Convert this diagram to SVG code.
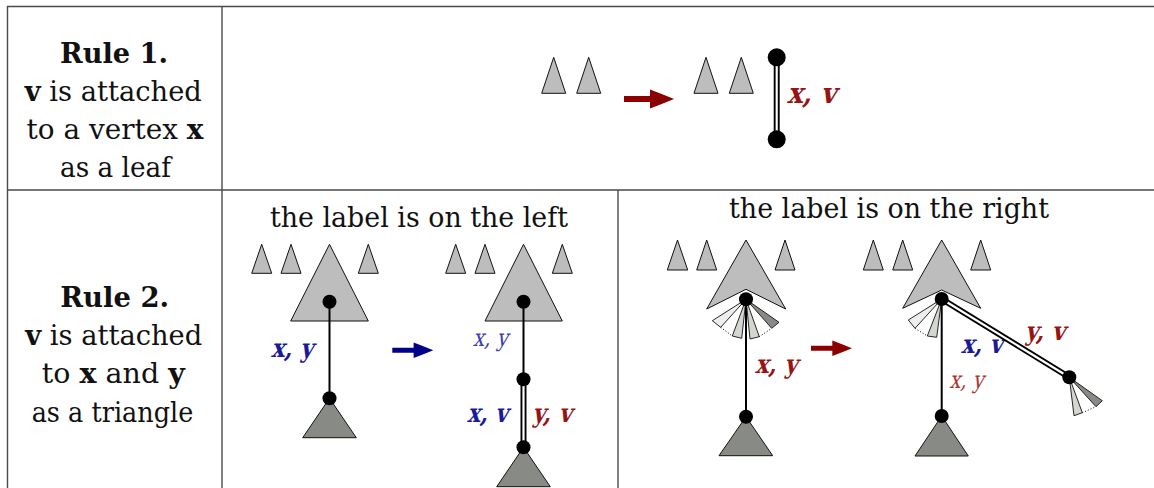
<svg xmlns="http://www.w3.org/2000/svg" xmlns:xlink="http://www.w3.org/1999/xlink" width="1154" height="488" viewBox="0 0 1154 488">
<style>
.grid{stroke:#4a4a4a;stroke-width:1.4;fill:none}
.txt{font-family:'DejaVu Serif',serif;font-size:27px;fill:#111}
.b{font-weight:bold}
.lt{fill:#bdbdbd;stroke:#111;stroke-width:1}
.dk{fill:#888a85;stroke:#111;stroke-width:1}
.w1{fill:#eeeeec;stroke:#111;stroke-width:0.9}
.w2{fill:#d3d7cf;stroke:#111;stroke-width:0.9}
.w4{fill:#888a85;stroke:#111;stroke-width:0.9}
.edge{stroke:#000;stroke-width:2;fill:none}
.dblo{stroke:#000;stroke-width:6;fill:none}
.dbli{stroke:#fff;stroke-width:2.2;fill:none}
.dot{stroke:#000;stroke-width:1;stroke-dasharray:1 2;fill:none}
.node{fill:#000}
.m{font-family:'DejaVu Serif',serif;font-style:normal}
.mb{font-weight:bold;font-size:26px}
.mn{font-weight:normal;font-size:24px}
.red{fill:#961414}
.blue{fill:#1a1a96}
.lblue{fill:#3c3cb0}
.lred{fill:#a83232}
</style>
<defs>
<path id="arrow" d="M0,-3 H26 V-9.5 Q38,-5 50,0 Q38,5 26,9.5 V3 H0 Z"/>
</defs>
<g id="table">
<line class="grid" x1="7" y1="6.5" x2="1154" y2="6.5"/>
<line class="grid" x1="7.5" y1="6" x2="7.5" y2="488"/>
<line class="grid" x1="7" y1="190" x2="1154" y2="190"/>
<line class="grid" x1="222" y1="6" x2="222" y2="488"/>
<line class="grid" x1="618" y1="190" x2="618" y2="488"/>
</g>
<g id="rule1-text" class="txt" text-anchor="middle">
<text x="114" y="63" class="b" textLength="108" lengthAdjust="spacingAndGlyphs">Rule 1.</text>
<text x="113.3" y="101" textLength="177" lengthAdjust="spacingAndGlyphs"><tspan class="b">v</tspan> is attached</text>
<text x="115" y="139" textLength="177" lengthAdjust="spacingAndGlyphs">to a vertex <tspan class="b">x</tspan></text>
<text x="115.5" y="177" textLength="111" lengthAdjust="spacingAndGlyphs">as a leaf</text>
</g>
<g id="rule2-text" class="txt" text-anchor="middle">
<text x="114.7" y="306.7" class="b" textLength="109" lengthAdjust="spacingAndGlyphs">Rule 2.</text>
<text x="113.7" y="345" textLength="177" lengthAdjust="spacingAndGlyphs"><tspan class="b">v</tspan> is attached</text>
<text x="113.3" y="383.3" textLength="143" lengthAdjust="spacingAndGlyphs">to <tspan class="b">x</tspan> and <tspan class="b">y</tspan></text>
<text x="112.5" y="421.7" textLength="161.7" lengthAdjust="spacingAndGlyphs">as a triangle</text>
</g>
<g id="titles" class="txt" text-anchor="middle">
<text x="419" y="227" textLength="298" lengthAdjust="spacingAndGlyphs">the label is on the left</text>
<text x="889" y="218" textLength="320" lengthAdjust="spacingAndGlyphs">the label is on the right</text>
</g>
<g id="rule1-before">
<polygon class="lt" points="541.7,93.3 553.7,57.3 565.7,93.3"/>
<polygon class="lt" points="576.7,93.3 588.7,57.3 600.7,93.3"/>
</g>
<g id="rule1-after">
<polygon class="lt" points="694,93.3 706,57.3 718,93.3"/>
<polygon class="lt" points="729.3,93.3 741.3,57.3 753.3,93.3"/>
<text class="m mb red" style="font-size:29px" transform="translate(787,103) skewX(-14)" x="0" y="0" textLength="49" lengthAdjust="spacingAndGlyphs">x, v</text>
</g>
<g id="left-before">
<polygon class="lt" points="251.7,273.3 261.7,244.3 271.7,273.3"/>
<polygon class="lt" points="281,273.3 291,244.3 301,273.3"/>
<polygon class="lt" points="358.3,273.3 368.3,244.3 378.3,273.3"/>
<polygon class="lt" points="290.7,321 329.5,244.3 368.3,321"/>
<polygon class="dk" points="302.7,437.7 329.5,398.3 356.3,437.7"/>
<text class="m mb blue" transform="translate(271,357) skewX(-14)" x="0" y="0" textLength="42" lengthAdjust="spacingAndGlyphs">x, y</text>
</g>
<g id="left-after">
<polygon class="lt" points="445.7,273.3 455.7,244.3 465.7,273.3"/>
<polygon class="lt" points="475,273.3 485,244.3 495,273.3"/>
<polygon class="lt" points="552.3,273.3 562.3,244.3 572.3,273.3"/>
<polygon class="lt" points="485,321 523.5,244.3 562.3,321"/>
<polygon class="dk" points="496.7,486.7 523.5,447.3 550.3,486.7"/>
<text class="m mn lblue" transform="translate(472.8,346) skewX(-14)" x="0" y="0" textLength="35" lengthAdjust="spacingAndGlyphs">x, y</text>
<text class="m mb blue" transform="translate(467,421.7) skewX(-14)" x="0" y="0" textLength="40.6" lengthAdjust="spacingAndGlyphs">x, v</text>
<text class="m mb red" transform="translate(532.3,421.7) skewX(-14)" x="0" y="0" textLength="39.3" lengthAdjust="spacingAndGlyphs">y, v</text>
</g>
<g id="right-before">
<polygon class="lt" points="667.3,270 677.5,240 687.7,270"/>
<polygon class="lt" points="696.7,270 706.7,240 716.7,270"/>
<polygon class="lt" points="775,270 785,240 795,270"/>
<polygon class="lt" points="746,240 785.7,309 746,289.3 706.7,309"/>
<polygon class="w1" points="746,299.3 712.3,320.7 720.7,327.3"/>
<polygon class="w2" points="746,299.3 732.3,336 741.7,338.3"/>
<polygon class="w2" points="746,299.3 750,339 759.3,336.7"/>
<polygon class="w4" points="746,299.3 771.7,328.3 779,322.3"/>
<line class="dot" x1="720.7" y1="327.3" x2="732.3" y2="336"/>
<line class="dot" x1="759.3" y1="336.7" x2="771.7" y2="328.3"/>
<polygon class="dk" points="719,455.7 746,416.7 772.7,455.7"/>
<text class="m mb red" transform="translate(755,373) skewX(-14)" x="0" y="0" textLength="42.3" lengthAdjust="spacingAndGlyphs">x, y</text>
</g>
<g id="right-after">
<polygon class="lt" points="863.3,270 873.3,240 883.3,270"/>
<polygon class="lt" points="892.7,270 902.7,240 912.7,270"/>
<polygon class="lt" points="970.7,270 980.7,240 990.7,270"/>
<polygon class="lt" points="941.7,240 980.7,308.3 941.7,290 902.7,308.3"/>
<polygon class="w1" points="941.7,299 908.3,320 915,328.3"/>
<polygon class="w2" points="941.7,299 927.3,336 936.7,337.3"/>
<line class="dot" x1="915" y1="328.3" x2="927.3" y2="336"/>
<polygon class="w2" points="1069.3,377.3 1074,415.7 1082.3,412.7"/>
<polygon class="w4" points="1069.3,377.3 1096,406.7 1102.3,400.7"/>
<line class="dot" x1="1082.3" y1="412.7" x2="1096" y2="406.7"/>
<polygon class="dk" points="915,456 941.7,416 968.3,456"/>
<text class="m mb red" transform="translate(1025,340) skewX(-14)" x="0" y="0" textLength="40" lengthAdjust="spacingAndGlyphs">y, v</text>
<text class="m mb blue" transform="translate(961,353.3) skewX(-14)" x="0" y="0" textLength="41.3" lengthAdjust="spacingAndGlyphs">x, v</text>
<text class="m mn lred" transform="translate(949.2,388.3) skewX(-14)" x="0" y="0" textLength="34.3" lengthAdjust="spacingAndGlyphs">x, y</text>
</g>
<g id="connectors">
<line class="dblo" x1="776.7" y1="57.3" x2="776.7" y2="139.3"/>
<line class="dbli" x1="776.7" y1="57.3" x2="776.7" y2="139.3"/>
<line class="edge" x1="329.5" y1="301.7" x2="329.5" y2="398.3"/>
<line class="edge" x1="523.5" y1="301.7" x2="523.5" y2="379.3"/>
<line class="dblo" x1="523.5" y1="379.3" x2="523.5" y2="447.3"/>
<line class="dbli" x1="523.5" y1="379.3" x2="523.5" y2="447.3"/>
<line class="edge" x1="746" y1="299.3" x2="746" y2="416.7"/>
<line class="edge" x1="941.7" y1="299" x2="941.7" y2="416"/>
<line class="dblo" x1="941.7" y1="299" x2="1069.3" y2="377.3"/>
<line class="dbli" x1="941.7" y1="299" x2="1069.3" y2="377.3"/>
<use xlink:href="#arrow" href="#arrow" fill="#8b0000" transform="translate(624,99)"/>
<use xlink:href="#arrow" href="#arrow" fill="#00008b" transform="translate(392.3,350.3) scale(0.82)"/>
<use xlink:href="#arrow" href="#arrow" fill="#8b0000" transform="translate(811,348.3) scale(0.82)"/>
</g>
<g id="node-dots">
<circle class="node" cx="776.7" cy="57.3" r="9"/>
<circle class="node" cx="776.7" cy="139.3" r="9"/>
<circle class="node" cx="329.5" cy="301.7" r="7"/>
<circle class="node" cx="329.5" cy="398.3" r="7"/>
<circle class="node" cx="523.5" cy="301.7" r="7"/>
<circle class="node" cx="523.5" cy="379.3" r="7"/>
<circle class="node" cx="523.5" cy="447.3" r="7"/>
<circle class="node" cx="746" cy="299.3" r="7"/>
<circle class="node" cx="746" cy="416.7" r="7"/>
<circle class="node" cx="941.7" cy="299" r="7"/>
<circle class="node" cx="941.7" cy="416" r="7"/>
<circle class="node" cx="1069.3" cy="377.3" r="7"/>
</g>
</svg>
